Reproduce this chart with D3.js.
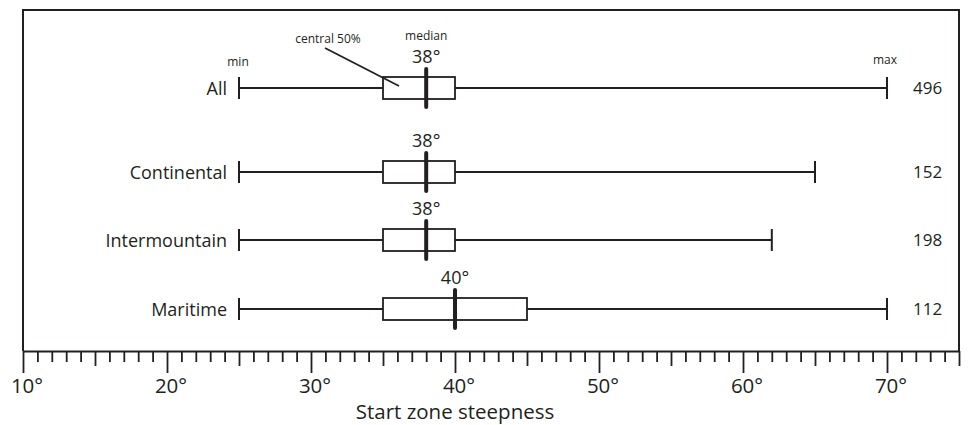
<!DOCTYPE html>
<html>
<head>
<meta charset="utf-8">
<script src="https://cdn.jsdelivr.net/npm/d3@7"></script>
<style>
    body { margin: 0; background: #fff; }
    text { font-family: "Open Sans", "Noto Sans", sans-serif; fill: #231f20; }
</style>
</head>
<body>
<div id="chart"></div>
<script>
// data
var categories = ["All", "Continental", "Intermountain", "Maritime"];
var mins = [25, 25, 25, 25];
var q1s = [35, 35, 35, 35];
var medians = [38, 38, 38, 40];
var q3s = [40, 40, 40, 45];
var maxs = [70, 65, 62, 70];
var counts = [496, 152, 198, 112];
var labelTicks = [10, 20, 30, 40, 50, 60, 70];

var width = 970, height = 425;
var ink = "#231f20";

var svg = d3.select("#chart").append("svg")
    .attr("width", width)
    .attr("height", height);

var x = d3.scaleLinear()
    .domain([10, 75])
    .range([23, 959]);

var y = d3.scaleOrdinal()
    .domain(categories)
    .range([88, 172, 240, 309]);

var axisY = 351;
var boxH = 22;

var rows = categories.map(function(c, i) {
    return {cat: c, min: mins[i], q1: q1s[i], med: medians[i], q3: q3s[i], max: maxs[i], n: counts[i]};
});

// frame (left, top, right)
svg.append("path")
    .attr("d", "M" + x(10) + "," + axisY + "V10H" + x(75) + "V" + axisY)
    .attr("fill", "none")
    .attr("stroke", ink)
    .attr("stroke-width", 2);

// AXIS
var xAxis = d3.axisBottom(x)
    .tickValues(d3.range(10, 76))
    .tickSize(11)
    .tickSizeOuter(0)
    .tickFormat("");

var gAxis = svg.append("g")
    .attr("transform", "translate(0," + axisY + ")")
    .call(xAxis);

gAxis.select(".domain").attr("stroke", ink).attr("stroke-width", 2);
gAxis.selectAll(".tick line")
    .attr("stroke", ink)
    .attr("stroke-width", 1.8)
    .attr("y2", function(d) {
        if (d % 10 === 0) return 22;
        if (d % 5 === 0) return 15;
        return 11;
    });

svg.selectAll(".tlabel")
    .data(labelTicks)
    .enter().append("text")
    .attr("class", "tlabel")
    .attr("x", function(d) { return x(d) + 4; })
    .attr("y", 393)
    .attr("text-anchor", "middle")
    .attr("font-size", 20.5)
    .text(function(d) { return d + "°"; });

svg.append("text")
    .attr("x", x(40))
    .attr("y", 419)
    .attr("text-anchor", "middle")
    .attr("font-size", 20.5)
    .text("Start zone steepness");

// BOXES
var g = svg.selectAll(".row")
    .data(rows)
    .enter().append("g")
    .attr("class", "row");

// whisker
g.append("line")
    .attr("x1", function(d) { return x(d.min); })
    .attr("x2", function(d) { return x(d.max); })
    .attr("y1", function(d) { return y(d.cat); })
    .attr("y2", function(d) { return y(d.cat); })
    .attr("stroke", ink)
    .attr("stroke-width", 1.8);

// end caps
g.selectAll(".cap")
    .data(function(d) { return [{v: d.min, c: d.cat}, {v: d.max, c: d.cat}]; })
    .enter().append("line")
    .attr("class", "cap")
    .attr("x1", function(d) { return x(d.v); })
    .attr("x2", function(d) { return x(d.v); })
    .attr("y1", function(d) { return y(d.c) - boxH / 2; })
    .attr("y2", function(d) { return y(d.c) + boxH / 2; })
    .attr("stroke", ink)
    .attr("stroke-width", 2);

g.append("rect")
    .attr("x", function(d) { return x(d.q1); })
    .attr("y", function(d) { return y(d.cat) - boxH / 2; })
    .attr("width", function(d) { return x(d.q3) - x(d.q1); })
    .attr("height", boxH)
    .attr("fill", "#fff")
    .attr("stroke", ink)
    .attr("stroke-width", 1.8);

g.append("line")
    .attr("x1", function(d) { return x(d.med); })
    .attr("x2", function(d) { return x(d.med); })
    .attr("y1", function(d) { return y(d.cat) - 19; })
    .attr("y2", function(d) { return y(d.cat) + 19; })
    .attr("stroke", ink)
    .attr("stroke-width", 4)
    .attr("stroke-linecap", "round");

g.append("text")
    .attr("x", function(d) { return x(d.med); })
    .attr("y", function(d) { return y(d.cat) - 25; })
    .attr("text-anchor", "middle")
    .attr("font-size", 18)
    .text(function(d) { return d.med + "°"; });

g.append("text")
    .attr("x", function(d) { return x(d.min) - 12; })
    .attr("y", function(d) { return y(d.cat) + 7; })
    .attr("text-anchor", "end")
    .attr("font-size", 18)
    .text(function(d) { return d.cat; });

g.append("text")
    .attr("x", 913)
    .attr("y", function(d) { return y(d.cat) + 6; })
    .attr("text-anchor", "start")
    .attr("font-size", 17)
    .text(function(d) { return d.n; });

// annotations on the first row
var r0 = rows[0];
var y0 = y(r0.cat);

svg.append("text")
    .attr("x", x(r0.min) - 1)
    .attr("y", y0 - 22)
    .attr("text-anchor", "middle")
    .attr("font-size", 12)
    .text("min");

svg.append("text")
    .attr("x", x(r0.max) - 2)
    .attr("y", y0 - 24)
    .attr("text-anchor", "middle")
    .attr("font-size", 12)
    .text("max");

svg.append("text")
    .attr("x", x(r0.med))
    .attr("y", y0 - 48)
    .attr("text-anchor", "middle")
    .attr("font-size", 12)
    .text("median");

svg.append("text")
    .attr("x", 328)
    .attr("y", y0 - 45)
    .attr("text-anchor", "middle")
    .attr("font-size", 12)
    .text("central 50%");

svg.append("line")
    .attr("x1", 325)
    .attr("y1", y0 - 40)
    .attr("x2", x(r0.q1) + 16)
    .attr("y2", y0 - 2)
    .attr("stroke", ink)
    .attr("stroke-width", 1.8);
</script>
</body>
</html>
